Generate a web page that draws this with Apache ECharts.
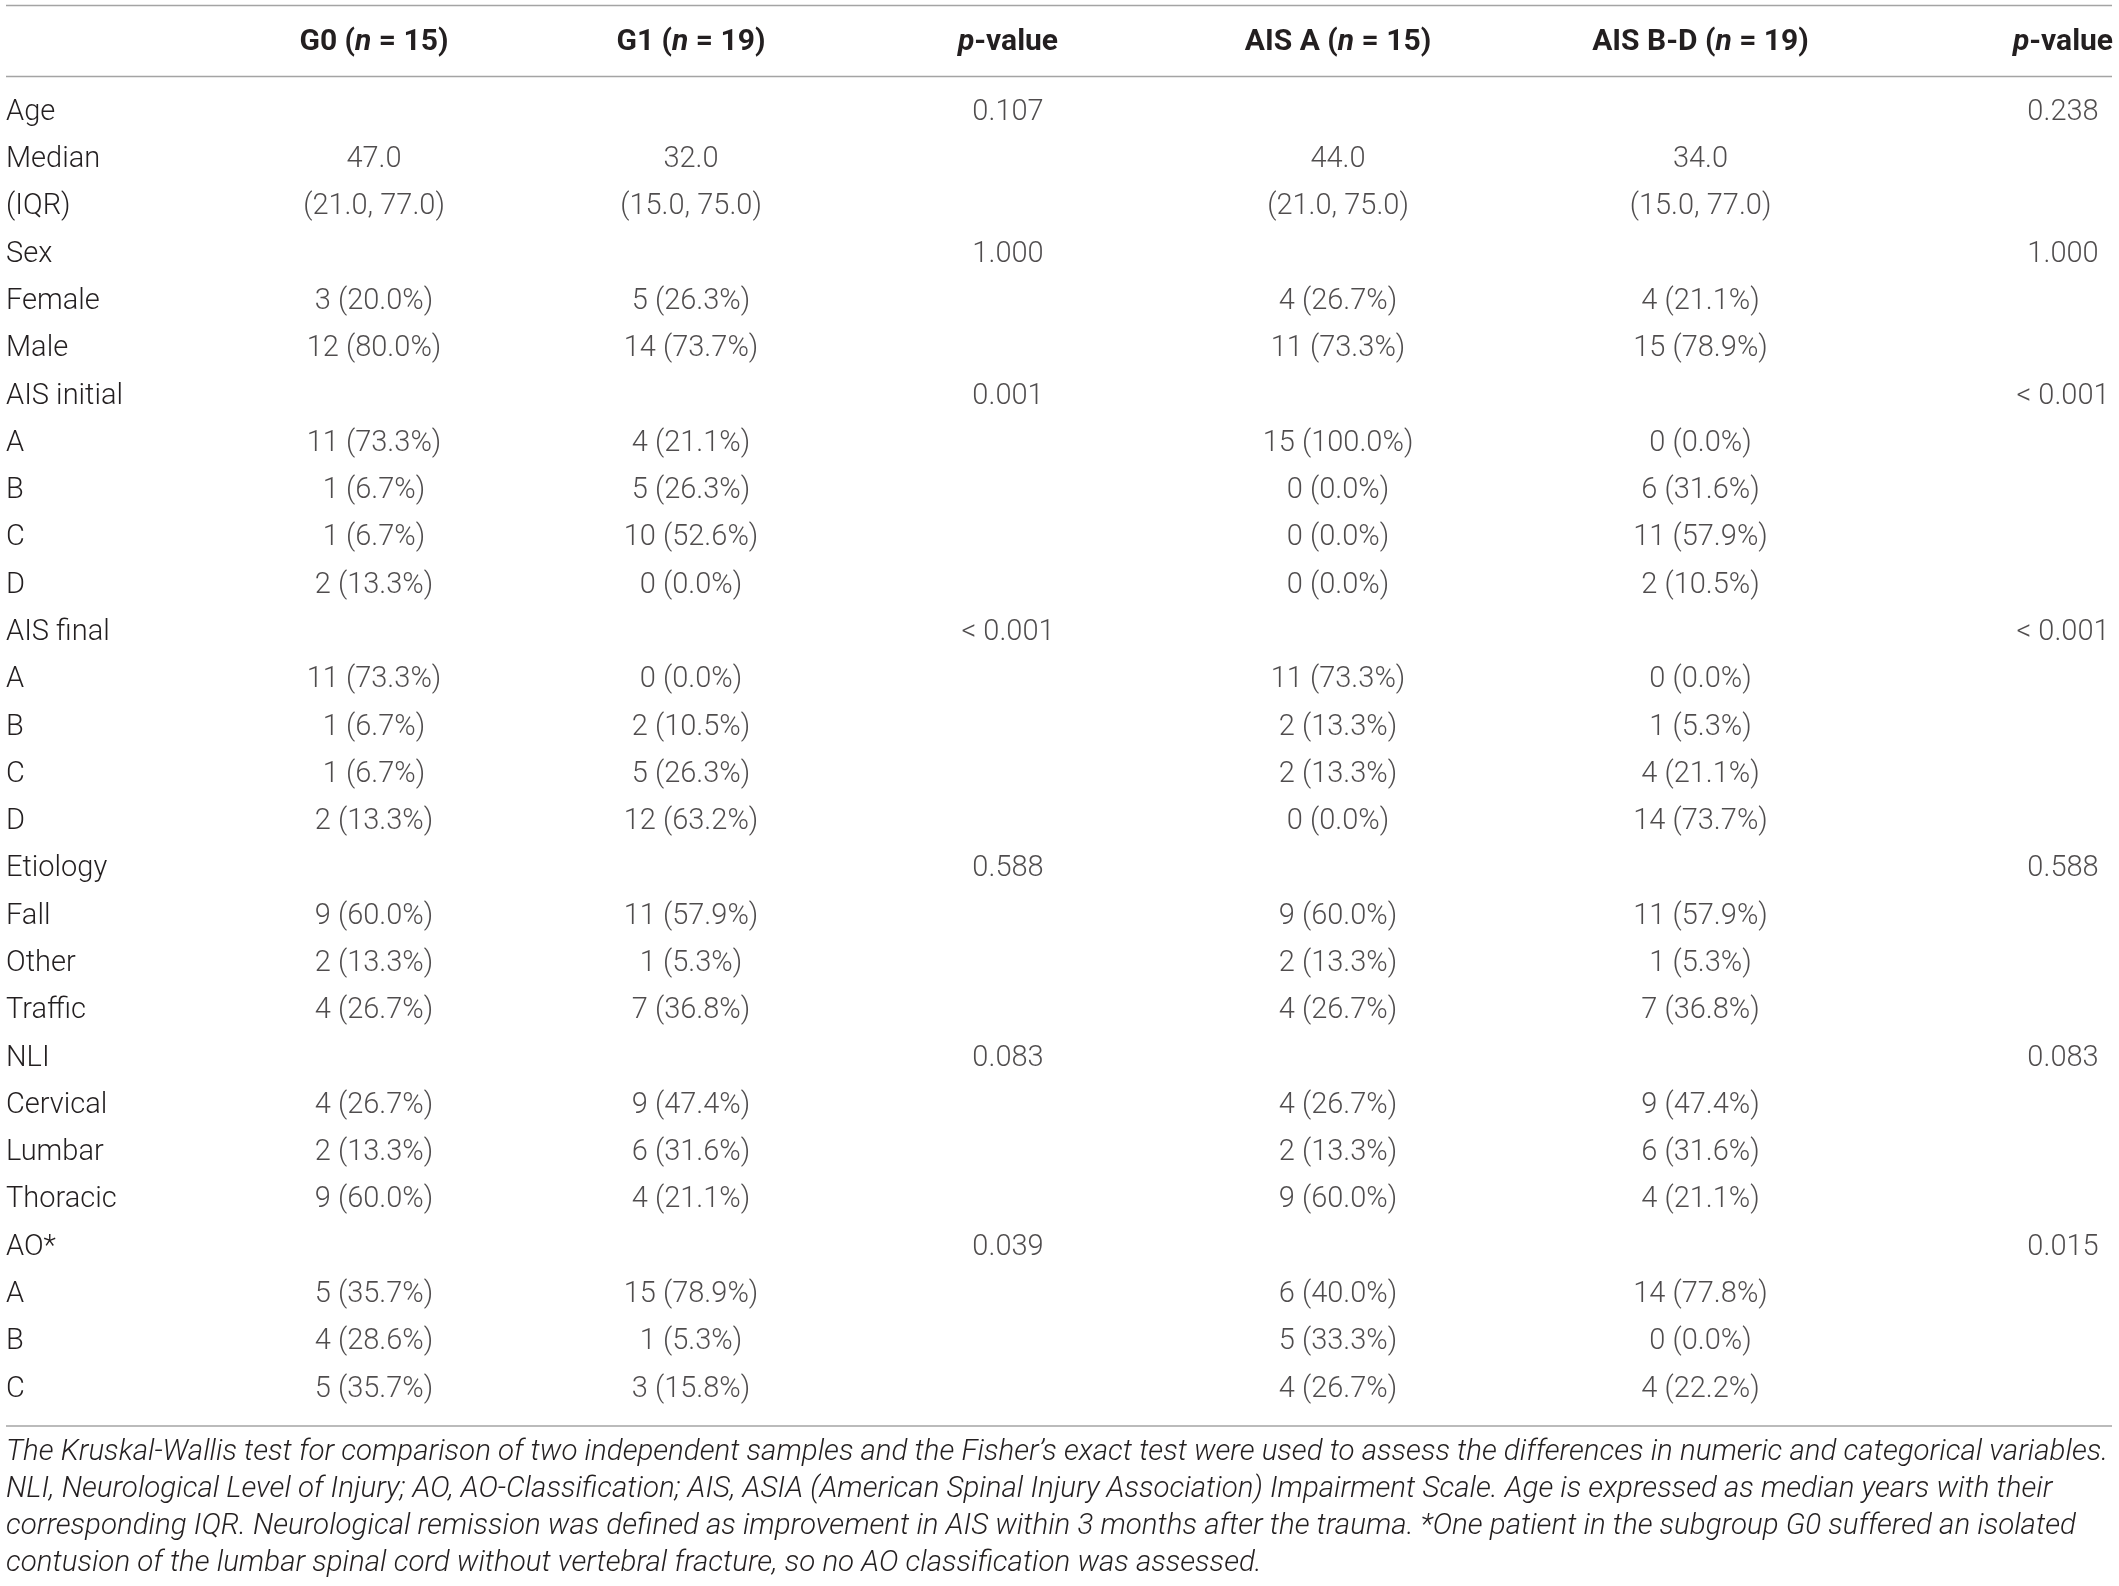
<!DOCTYPE html>
<html>
<head>
<meta charset="utf-8">
<title>Table 1</title>
<script src="https://cdn.jsdelivr.net/npm/echarts@6/dist/echarts.min.js"></script>
<style>
  html, body { margin: 0; padding: 0; background: #fff; }
  #main { width: 2119px; height: 1586px; }
</style>
</head>
<body>
<div id="main"></div>
<script>
// column headers (two comparisons: G0 vs G1, AIS A vs AIS B-D)
const colHeads = ['G0 (n = 15)', 'G1 (n = 19)', 'p-value', 'AIS A (n = 15)', 'AIS B-D (n = 19)', 'p-value'];

const rowLabels = ['Age', 'Median', '(IQR)', 'Sex', 'Female', 'Male', 'AIS initial', 'A', 'B', 'C', 'D',
  'AIS final', 'A', 'B', 'C', 'D', 'Etiology', 'Fall', 'Other', 'Traffic', 'NLI', 'Cervical', 'Lumbar',
  'Thoracic', 'AO*', 'A', 'B', 'C'];

const g0 = ['', '47.0', '(21.0, 77.0)', '', '3 (20.0%)', '12 (80.0%)', '', '11 (73.3%)', '1 (6.7%)', '1 (6.7%)',
  '2 (13.3%)', '', '11 (73.3%)', '1 (6.7%)', '1 (6.7%)', '2 (13.3%)', '', '9 (60.0%)', '2 (13.3%)', '4 (26.7%)',
  '', '4 (26.7%)', '2 (13.3%)', '9 (60.0%)', '', '5 (35.7%)', '4 (28.6%)', '5 (35.7%)'];
const g1 = ['', '32.0', '(15.0, 75.0)', '', '5 (26.3%)', '14 (73.7%)', '', '4 (21.1%)', '5 (26.3%)', '10 (52.6%)',
  '0 (0.0%)', '', '0 (0.0%)', '2 (10.5%)', '5 (26.3%)', '12 (63.2%)', '', '11 (57.9%)', '1 (5.3%)', '7 (36.8%)',
  '', '9 (47.4%)', '6 (31.6%)', '4 (21.1%)', '', '15 (78.9%)', '1 (5.3%)', '3 (15.8%)'];
const pGroup = ['0.107', '', '', '1.000', '', '', '0.001', '', '', '', '', '< 0.001', '', '', '', '',
  '0.588', '', '', '', '0.083', '', '', '', '0.039', '', '', ''];
const aisA = ['', '44.0', '(21.0, 75.0)', '', '4 (26.7%)', '11 (73.3%)', '', '15 (100.0%)', '0 (0.0%)', '0 (0.0%)',
  '0 (0.0%)', '', '11 (73.3%)', '2 (13.3%)', '2 (13.3%)', '0 (0.0%)', '', '9 (60.0%)', '2 (13.3%)', '4 (26.7%)',
  '', '4 (26.7%)', '2 (13.3%)', '9 (60.0%)', '', '6 (40.0%)', '5 (33.3%)', '4 (26.7%)'];
const aisBD = ['', '34.0', '(15.0, 77.0)', '', '4 (21.1%)', '15 (78.9%)', '', '0 (0.0%)', '6 (31.6%)', '11 (57.9%)',
  '2 (10.5%)', '', '0 (0.0%)', '1 (5.3%)', '4 (21.1%)', '14 (73.7%)', '', '11 (57.9%)', '1 (5.3%)', '7 (36.8%)',
  '', '9 (47.4%)', '6 (31.6%)', '4 (21.1%)', '', '14 (77.8%)', '0 (0.0%)', '4 (22.2%)'];
const pAIS = ['0.238', '', '', '1.000', '', '', '< 0.001', '', '', '', '', '< 0.001', '', '', '', '',
  '0.588', '', '', '', '0.083', '', '', '', '0.015', '', '', ''];

const footnote = [
  'The Kruskal-Wallis test for comparison of two independent samples and the Fisher\u2019s exact test were used to assess the differences in numeric and categorical variables.',
  'NLI, Neurological Level of Injury; AO, AO-Classification; AIS, ASIA (American Spinal Injury Association) Impairment Scale. Age is expressed as median years with their',
  'corresponding IQR. Neurological remission was defined as improvement in AIS within 3 months after the trauma. *One patient in the subgroup G0 suffered an isolated',
  'contusion of the lumbar spinal cord without vertebral fracture, so no AO classification was assessed.'
];

const FONT = 'Roboto, "Liberation Sans", sans-serif';
const INK = '#231f20';
const RULE = '#a4a4a4';

const chart = echarts.init(document.getElementById('main'));

// bold header, with the n / p in italic
function headRich(s) {
  if (s.indexOf('p-') === 0) return '{bi|p}{b|' + s.slice(1) + '}';
  const m = s.match(/^(.*\()n( = \d+\))$/);
  return m ? '{b|' + m[1] + '}{bi|n}{b|' + m[2] + '}' : '{b|' + s + '}';
}
const headStyle = { fontFamily: FONT, fontSize: 30, fontWeight: 'bold', color: INK };
const headRichStyles = { b: headStyle, bi: Object.assign({}, headStyle, { fontStyle: 'italic' }) };

const columns = [
  { vals: g0, grid: 0, col: 0 },
  { vals: g1, grid: 0, col: 1 },
  { vals: pGroup, grid: 0, col: 2 },
  { vals: aisA, grid: 1, col: 0 },
  { vals: aisBD, grid: 1, col: 1 },
  { vals: pAIS, grid: 1, col: 2 }
];

const cellLabel = {
  show: true,
  position: 'inside',
  formatter: p => p.data.text,
  fontFamily: FONT,
  fontSize: 29,
  fontWeight: 300,
  color: INK
};

// columns sit on the ticks (boundaryGap false), first to last tick spans the grid
function xAx(i) {
  return {
    gridIndex: i,
    type: 'category',
    position: 'top',
    boundaryGap: false,
    data: colHeads.slice(i * 3, i * 3 + 3),
    axisLine: { show: false },
    axisTick: { show: false },
    splitLine: { show: false },
    axisLabel: { interval: 0, margin: 47, verticalAlign: 'middle', formatter: headRich, rich: headRichStyles }
  };
}

const option = {
  backgroundColor: '#fff',
  animation: false,
  title: {
    text: footnote.join('\n'),
    left: 6,
    top: 1434,
    padding: 0,
    textStyle: { fontFamily: FONT, fontStyle: 'italic', fontWeight: 300, fontSize: 29.5, lineHeight: 37, color: INK }
  },
  grid: [
    { left: 374, width: 634, top: 89, height: 1324 },
    { left: 1338, width: 725, top: 89, height: 1324 }
  ],
  xAxis: [xAx(0), xAx(1)],
  yAxis: [
    {
      gridIndex: 0,
      type: 'category',
      inverse: true,
      data: rowLabels,
      axisLine: { show: false },
      axisTick: { show: false },
      splitLine: { show: false },
      axisLabel: { interval: 0, align: 'left', margin: 368, fontFamily: FONT, fontSize: 29, fontWeight: 300, color: INK }
    },
    { gridIndex: 1, type: 'category', inverse: true, data: rowLabels, show: false }
  ],
  graphic: [
    { type: 'line', shape: { x1: 6, y1: 5.5, x2: 2112, y2: 5.5 }, style: { stroke: RULE, lineWidth: 1.5 } },
    { type: 'line', shape: { x1: 6, y1: 76.5, x2: 2112, y2: 76.5 }, style: { stroke: RULE, lineWidth: 1.5 } },
    { type: 'line', shape: { x1: 6, y1: 1426, x2: 2112, y2: 1426 }, style: { stroke: RULE, lineWidth: 1.5 } }
  ],
  series: columns.map(c => ({
    type: 'scatter',
    xAxisIndex: c.grid,
    yAxisIndex: c.grid,
    silent: true,
    symbolSize: 0,
    itemStyle: { color: 'transparent' },
    label: cellLabel,
    data: c.vals.map((t, i) => t ? { value: [c.col, i], text: t } : null).filter(d => d)
  }))
};

chart.setOption(option);
</script>
</body>
</html>
